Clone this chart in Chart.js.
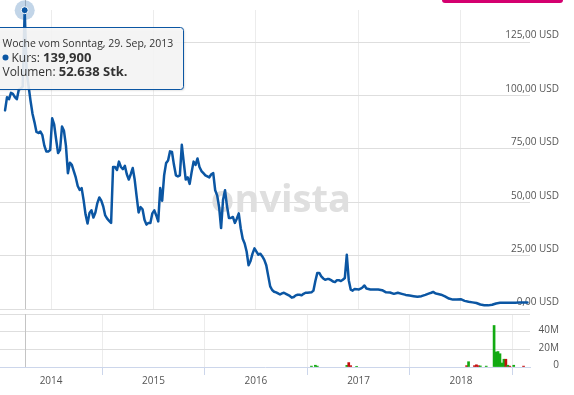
<!DOCTYPE html>
<html><head><meta charset="utf-8">
<script src="https://cdn.jsdelivr.net/npm/chart.js@4.4.1/dist/chart.umd.min.js"></script>
<style>
html,body{margin:0;padding:0;background:#fff;overflow:hidden}
#wrap{position:relative;width:574px;height:395px}
#pc{position:absolute;left:0;top:0;width:574px;height:312px}
#vc{position:absolute;left:0;top:311px;width:574px;height:84px}
#pink{position:absolute;left:442px;top:0;width:121px;height:3px;background:#d4006f;border-radius:0 0 3px 3px}
</style></head><body>
<div id="wrap">
<canvas id="pc" width="574" height="312"></canvas>
<canvas id="vc" width="574" height="84"></canvas>
<div id="pink"></div>
</div>
<script>
// ---- data (weekly, week starting Sunday) ----
const weeks = [
'2013-07-21','2013-07-28','2013-08-04','2013-08-11','2013-08-18','2013-08-25','2013-09-01','2013-09-08','2013-09-15','2013-09-22',
'2013-09-29','2013-10-06','2013-10-13','2013-10-20','2013-10-27','2013-11-03','2013-11-10','2013-11-17','2013-11-24','2013-12-01',
'2013-12-08','2013-12-15','2013-12-22','2013-12-29','2014-01-05','2014-01-12','2014-01-19','2014-01-26','2014-02-02','2014-02-09',
'2014-02-16','2014-02-23','2014-03-02','2014-03-09','2014-03-16','2014-03-23','2014-03-30','2014-04-06','2014-04-13','2014-04-20',
'2014-04-27','2014-05-04','2014-05-11','2014-05-18','2014-05-25','2014-06-01','2014-06-08','2014-06-15','2014-06-22','2014-06-29',
'2014-07-06','2014-07-13','2014-07-20','2014-07-27','2014-08-03','2014-08-10','2014-08-17','2014-08-24','2014-08-31','2014-09-07',
'2014-09-14','2014-09-21','2014-09-28','2014-10-05','2014-10-12','2014-10-19','2014-10-26','2014-11-02','2014-11-09','2014-11-16',
'2014-11-23','2014-11-30','2014-12-07','2014-12-14','2014-12-21','2014-12-28','2015-01-04','2015-01-11','2015-01-18','2015-01-25',
'2015-02-01','2015-02-08','2015-02-15','2015-02-22','2015-03-01','2015-03-08','2015-03-15','2015-03-22','2015-03-29','2015-04-05',
'2015-04-12','2015-04-19','2015-04-26','2015-05-03','2015-05-10','2015-05-17','2015-05-24','2015-05-31','2015-06-07','2015-06-14',
'2015-06-21','2015-06-28','2015-07-05','2015-07-12','2015-07-19','2015-07-26','2015-08-02','2015-08-09','2015-08-16','2015-08-23',
'2015-08-30','2015-09-06','2015-09-13','2015-09-20','2015-09-27','2015-10-04','2015-10-11','2015-10-18','2015-10-25','2015-11-01',
'2015-11-08','2015-11-15','2015-11-22','2015-11-29','2015-12-06','2015-12-13','2015-12-20','2015-12-27','2016-01-03','2016-01-10',
'2016-01-17','2016-01-24','2016-01-31','2016-02-07','2016-02-14','2016-02-21','2016-02-28','2016-03-06','2016-03-13','2016-03-20',
'2016-03-27','2016-04-03','2016-04-10','2016-04-17','2016-04-24','2016-05-01','2016-05-08','2016-05-15','2016-05-22','2016-05-29',
'2016-06-05','2016-06-12','2016-06-19','2016-06-26','2016-07-03','2016-07-10','2016-07-17','2016-07-24','2016-07-31','2016-08-07',
'2016-08-14','2016-08-21','2016-08-28','2016-09-04','2016-09-11','2016-09-18','2016-09-25','2016-10-02','2016-10-09','2016-10-16',
'2016-10-23','2016-10-30','2016-11-06','2016-11-13','2016-11-20','2016-11-27','2016-12-04','2016-12-11','2016-12-18','2016-12-25',
'2017-01-01','2017-01-08','2017-01-15','2017-01-22','2017-01-29','2017-02-12','2017-02-26','2017-03-12','2017-03-26','2017-04-09',
'2017-04-23','2017-05-07','2017-05-21','2017-06-04','2017-06-18','2017-07-02','2017-07-16','2017-07-30','2017-08-13','2017-08-27',
'2017-09-10','2017-09-17','2017-09-24','2017-10-01','2017-10-08','2017-10-22','2017-11-05','2017-11-19','2017-12-03','2017-12-17',
'2017-12-31','2018-01-14','2018-01-28','2018-02-11','2018-02-25','2018-03-11','2018-03-25','2018-04-08','2018-04-22','2018-05-06',
'2018-05-20','2018-06-03','2018-06-17','2018-07-01','2018-07-15','2018-07-29','2018-08-12','2018-08-26'
];
const prices = [
93,99.2,98.2,101.2,100.7,99.2,98.2,102.7,103.2,104.2,
139.9,111.1,104.2,97.3,91.3,87.4,82.9,82.4,83.1,81.4,
76.5,73.8,73.8,74.5,89.3,86.4,79.4,73,74.5,85.4,
83.4,76.5,63.6,68.5,67.5,64.6,61.6,57.6,55.8,56.6,
51,44.2,40,45,46.2,42.8,45.2,49.6,52.2,50.7,
48,43.8,42.3,41.3,40.3,66.5,66.5,65.1,69,66.5,
65.5,67,63.1,60.6,63.1,66,60.6,52.7,45.2,47.7,
46.7,41.8,39.5,40.3,40.3,44.8,46.2,43.8,41,56.6,
50.7,62.6,68.3,69.5,73.8,73.5,67.5,62.6,62.1,62.6,
76.9,68.5,60.6,61.6,58.6,64.1,69,67.5,70.5,66.5,
64.6,63.6,62.6,62.1,61.6,63.1,63.6,55.6,53.2,47.7,
37.9,51.2,55.6,48.2,42.6,42.6,43.1,40.3,42.3,44.8,
37.8,32.9,30.7,26.9,20.5,22.5,25.9,28.4,26.9,25.4,
25.9,24.6,23,20.5,15.5,10.6,8.9,8.1,7.8,7.3,
6.8,7.3,7.6,7.1,6.6,6.1,5.3,5.6,6.4,6.7,
6.7,6.4,7.1,7.6,7.6,7.7,7.8,8.6,13.1,16.9,
16.9,15.3,14.3,13.7,14,14,13.5,12.9,12.6,13.5,
13.5,13.1,13.7,14.5,25.4,13.5,9.1,8.6,9.4,9.3,
9.1,9.5,10.1,11,9.6,9.1,9.1,9.1,8.8,7.8,
7.7,7.1,7.6,7.1,6.6,6.3,6,5.7,6,6.6,
7.3,7.6,8,7.4,7.1,6.7,5.9,4.9,4.4,4.4,
4.6,3.8,3.4,3.1,2.8,2.1,1.8,1.7,2,2.6,
2.9,2.9,2.9,2.9,2.9,3.1,3.1,3.1
];
const volWeeks = [
'2013-09-29','2016-07-17','2016-07-31','2016-08-07','2016-11-20','2016-11-27','2016-12-04','2016-12-25',
'2018-01-21','2018-01-28','2018-02-18','2018-02-25','2018-03-04','2018-03-11','2018-04-01','2018-04-29',
'2018-05-06','2018-05-13','2018-05-20','2018-05-27','2018-06-03','2018-06-10','2018-06-17','2018-06-24',
'2018-07-08','2018-08-12'
];
const volumes = [
52638,1000000,2000000,1000000,1800000,5000000,1500000,800000,
1500000,6000000,1500000,2500000,1500000,1200000,1000000,47000000,
17000000,17500000,15000000,4500000,8800000,8800000,2000000,1000000,
2000000,1000000
];
const volDir = [
'up','up','up','up','up','down','down','up',
'down','up','down','down','down','up','up','up',
'up','up','up','up','up','down','up','down',
'up','down'
];
const yearTicks = ['2014-01-01','2015-01-01','2016-01-01','2017-01-01','2018-01-01'];
const priceTicks = [0,25,50,75,100,125];
const volumeTicks = [0,20000000,40000000,60000000];
const hoverWeek = '2013-09-29';
const rangeStart = '2013-07-03', rangeEnd = '2018-09-04';

// ---- styling ----
const LINE = '#0b56a3';
const FONT = "'Open Sans', sans-serif";
Chart.defaults.font.family = FONT;
Chart.defaults.animation = false;

const xMin = Date.parse(rangeStart), xMax = Date.parse(rangeEnd);
const hoverIdx = weeks.indexOf(hoverWeek);
const monthsDe = ['Jan','Feb','Mär','Apr','Mai','Jun','Jul','Aug','Sep','Okt','Nov','Dez'];
const daysDe = ['Sonntag','Montag','Dienstag','Mittwoch','Donnerstag','Freitag','Samstag'];

function yearTickBuilder(s){ s.ticks = yearTicks.map(d => ({value: Date.parse(d)})); }
function rightAxisFit(s){ s.width = 44; s.paddingTop = 0; s.paddingBottom = 0; s.paddingLeft = 0; s.paddingRight = 0; }

const crossPlugin = {
  id:'cross',
  beforeDatasetsDraw(chart){
    const ctx = chart.ctx, ca = chart.chartArea;
    const x = Math.round(chart.scales.x.getPixelForValue(Date.parse(hoverWeek))) + 0.5;
    ctx.save();
    if (chart.canvas.id === 'pc') {
      ctx.font = "bold 38px " + FONT;
      ctx.fillStyle = '#dfdfdf';
      ctx.textAlign = 'center';
      ctx.textBaseline = 'alphabetic';
      ctx.fillText('onvista', ca.left + ca.width*0.530, ca.top + ca.height*0.675);
    }
    ctx.strokeStyle = '#c4c4c4';
    ctx.lineWidth = 1;
    ctx.beginPath();
    ctx.moveTo(x, chart.canvas.id === 'pc' ? 0 : ca.top);
    ctx.lineTo(x, ca.bottom);
    ctx.stroke();
    if (chart.canvas.id === 'pc') {
      const pt = chart.getDatasetMeta(0).data[hoverIdx];
      ctx.fillStyle = 'rgba(11,86,163,0.25)';
      ctx.beginPath(); ctx.arc(pt.x, pt.y, 10, 0, Math.PI*2); ctx.fill();
    }
    ctx.restore();
  },
  afterDatasetsDraw(chart){
    if (chart.canvas.id !== 'pc') return;
    const ctx = chart.ctx;
    const pt = chart.getDatasetMeta(0).data[hoverIdx];
    ctx.save();
    ctx.fillStyle = LINE; ctx.strokeStyle = '#fff'; ctx.lineWidth = 1;
    ctx.beginPath(); ctx.arc(pt.x, pt.y, 3.5, 0, Math.PI*2); ctx.fill(); ctx.stroke();
    ctx.restore();
  },
  afterDraw(chart){
    if (chart.canvas.id !== 'pc') return;
    const ctx = chart.ctx;
    const pt = chart.getDatasetMeta(0).data[hoverIdx];
    const bx = Math.round(pt.x) - 28.5, by = Math.round(pt.y) + 17.5, bw = 187, bh = 62;
    ctx.save();
    ctx.shadowColor = 'rgba(0,0,0,0.18)'; ctx.shadowOffsetX = 1; ctx.shadowOffsetY = 1; ctx.shadowBlur = 2;
    ctx.beginPath();
    if (ctx.roundRect) ctx.roundRect(bx, by, bw, bh, 3); else ctx.rect(bx, by, bw, bh);
    ctx.fillStyle = 'rgba(248,248,248,0.88)';
    ctx.fill();
    ctx.shadowColor = 'transparent';
    ctx.strokeStyle = LINE; ctx.lineWidth = 1; ctx.stroke();
    // texts
    const d = new Date(hoverWeek + 'T00:00:00Z');
    const head = 'Woche vom ' + daysDe[d.getUTCDay()] + ', ' + d.getUTCDate() + '. ' + monthsDe[d.getUTCMonth()] + ', ' + d.getUTCFullYear();
    const tx = bx + 6;
    ctx.textBaseline = 'alphabetic'; ctx.textAlign = 'left';
    ctx.fillStyle = '#333';
    ctx.font = "10.5px " + FONT;
    ctx.fillText(head, tx, by + 19);
    // line 2
    const price = prices[hoverIdx].toFixed(3).replace('.', ',');
    ctx.fillStyle = LINE;
    ctx.beginPath(); ctx.arc(tx + 3, by + 30, 3, 0, Math.PI*2); ctx.fill();
    ctx.fillStyle = '#333';
    ctx.font = "12px " + FONT;
    let t = 'Kurs: ';
    ctx.fillText(t, tx + 9, by + 34);
    let w = ctx.measureText(t).width;
    ctx.font = "bold 13px " + FONT;
    ctx.fillText(price, tx + 9 + w, by + 34);
    // line 3
    const vi = volWeeks.indexOf(hoverWeek);
    const vol = vi >= 0 ? volumes[vi] : 0;
    const volStr = vol.toString().replace(/\B(?=(\d{3})+(?!\d))/g, '.') + ' Stk.';
    ctx.font = "12px " + FONT;
    t = 'Volumen: ';
    ctx.fillText(t, tx, by + 48.5);
    w = ctx.measureText(t).width;
    ctx.font = "bold 13px " + FONT;
    ctx.fillText(volStr, tx + w, by + 48.5);
    ctx.restore();
  }
};

const priceChart = new Chart(document.getElementById('pc'), {
  type: 'line',
  data: { datasets: [{
    data: weeks.map((d, i) => ({x: Date.parse(d), y: prices[i]})),
    borderColor: LINE, borderWidth: 2.5, pointRadius: 0, tension: 0, clip: false,
    borderJoinStyle: 'round', borderCapStyle: 'round'
  }]},
  options: {
    responsive: false, maintainAspectRatio: false, events: [],
    layout: { padding: { top: 10, bottom: 3, left: 0, right: 0 } },
    plugins: { legend: {display: false}, tooltip: {enabled: false} },
    scales: {
      x: { type: 'linear', min: xMin, max: xMax, afterBuildTicks: yearTickBuilder,
           grid: { color: '#ececec', drawTicks: false }, border: { display: false },
           ticks: { display: false } },
      y: { type: 'linear', position: 'right', min: 0, max: 140,
           afterBuildTicks: s => { s.ticks = priceTicks.map(v => ({value: v})); },
           afterFit: rightAxisFit,
           grid: { color: '#dedede', drawTicks: false }, border: { display: false },
           ticks: { mirror: true, crossAlign: 'near', padding: 29, labelOffset: -6.5, color: '#555',
                    font: { size: 10 }, callback: v => v.toFixed(2).replace('.', ',') + ' USD' } }
    }
  },
  plugins: [crossPlugin]
});

// bars smaller than a tenth of a pixel are not painted (as in the original rendering)
const volMaxAxis = volumeTicks[volumeTicks.length - 1];
const volChart = new Chart(document.getElementById('vc'), {
  type: 'bar',
  data: { datasets: [{
    data: volWeeks.map((d, i) => ({x: Date.parse(d), y: volumes[i]})),
    backgroundColor: volDir.map((v, i) => volumes[i] < volMaxAxis * 0.002 ? 'rgba(0,0,0,0)' : (v === 'up' ? '#12aa12' : '#c40f0f')),
    barThickness: 2, borderWidth: 0
  }]},
  options: {
    responsive: false, maintainAspectRatio: false, events: [],
    layout: { padding: { top: 3, bottom: 8, left: 0, right: 0 } },
    plugins: { legend: {display: false}, tooltip: {enabled: false} },
    scales: {
      x: { type: 'linear', min: xMin, max: xMax, offset: false, afterBuildTicks: yearTickBuilder,
           grid: { color: '#ececec', tickColor: '#ccd6eb', tickLength: 8, drawTicks: true },
           border: { display: true, color: '#ccd6eb' },
           ticks: { color: '#555', font: { size: 10 }, padding: 0, maxRotation: 0,
                    callback: v => String(new Date(v).getUTCFullYear()) } },
      y: { type: 'linear', position: 'right', min: 0, max: volMaxAxis,
           afterBuildTicks: s => { s.ticks = volumeTicks.map(v => ({value: v})); },
           afterFit: rightAxisFit,
           grid: { color: c => (c.tick && c.tick.value === 0) ? 'rgba(0,0,0,0)' : '#dedede', drawTicks: false },
           border: { display: false },
           ticks: { mirror: true, crossAlign: 'near', padding: 29, labelOffset: -1.5, color: '#555',
                    font: { size: 10 },
                    callback: v => v === 0 ? '0' : (v >= volMaxAxis ? '' : (v / 1000000) + 'M') } }
    }
  },
  plugins: [crossPlugin]
});
</script>
</body></html>
